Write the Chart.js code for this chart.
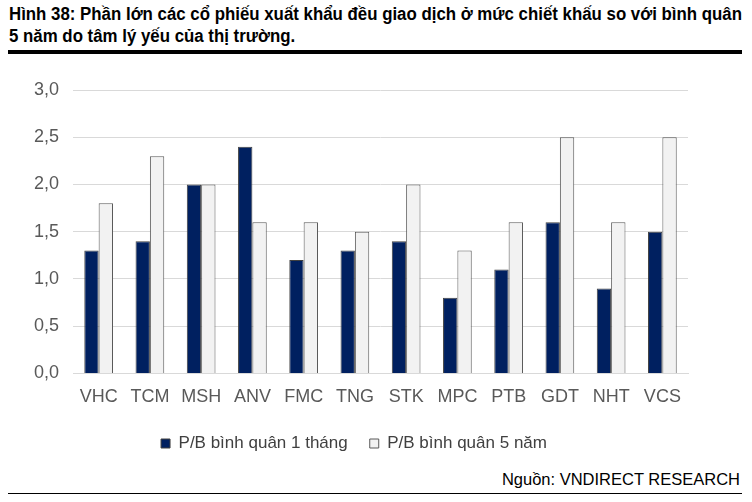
<!DOCTYPE html>
<html><head><meta charset="utf-8">
<script src="https://cdn.jsdelivr.net/npm/chart.js"></script>
<style>
html,body{margin:0;padding:0;background:#fff;}
body{width:752px;height:502px;position:relative;overflow:hidden;font-family:"Liberation Sans",Arial,sans-serif;}
#title{position:absolute;left:9px;top:3px;font-weight:bold;font-size:18px;line-height:22px;color:#000;white-space:nowrap;transform-origin:0 0;}
#rule{position:absolute;left:8px;top:50px;width:734px;height:4px;background:#000;}
#chartbox{position:absolute;left:0;top:56px;width:752px;height:410px;}
#source{position:absolute;right:12px;top:470px;font-size:16.5px;color:#000;}
#rule2{position:absolute;left:8px;top:493px;width:734px;height:1px;background:#000;}
</style></head><body>
<div id="title"><span id="t1">Hình 38: Phần lớn các cổ phiếu xuất khẩu đều giao dịch ở mức chiết khấu so với bình quân</span><br><span>5 năm do tâm lý yếu của thị trường.</span></div>
<div id="rule"></div>
<div id="chartbox"><canvas id="c"></canvas></div>
<div id="source">Nguồn: VNDIRECT RESEARCH</div>
<div id="rule2"></div>
<script>
const categories = ["VHC","TCM","MSH","ANV","FMC","TNG","STK","MPC","PTB","GDT","NHT","VCS"];
const pb1Month = [1.3,1.4,2.0,2.4,1.2,1.3,1.4,0.8,1.1,1.6,0.9,1.5];
const pb5Year = [1.8,2.3,2.0,1.6,1.6,1.5,2.0,1.3,1.6,2.5,1.6,2.5];
const seriesNames = ["P/B bình quân 1 tháng","P/B bình quân 5 năm"];
const yTicks = [0,0.5,1.0,1.5,2.0,2.5,3.0];

(function(){
  const t1 = document.getElementById('t1');
  const w = t1.getBoundingClientRect().width;
  document.getElementById('title').style.transform = 'scaleX(' + (733 / w) + ')';
})();

const FONT = '"Liberation Sans", Arial, sans-serif';
new Chart(document.getElementById('c'), {
  type: 'bar',
  data: {
    labels: categories,
    datasets: [
      {label: seriesNames[0], data: pb1Month, backgroundColor:'#002060', borderColor:'#404040', borderWidth:1, categoryPercentage:0.56, barPercentage:1.0},
      {label: seriesNames[1], data: pb5Year, backgroundColor:'#f2f2f2', borderColor:'#595959', borderWidth:1, categoryPercentage:0.56, barPercentage:1.0}
    ]
  },
  options: {
    responsive:true, maintainAspectRatio:false, animation:false,
    layout:{padding:{left:20,right:64,top:34,bottom:4}},
    plugins:{
      legend:{position:'bottom', labels:{font:{family:FONT, size:17}, color:'#404040', boxWidth:9, boxHeight:9, padding:22}},
      tooltip:{enabled:false}
    },
    scales:{
      x:{grid:{display:false}, border:{color:'#d9d9d9'}, ticks:{font:{family:FONT, size:18}, color:'#595959', padding:5}},
      y:{min:0,max:3, afterBuildTicks:(ax)=>{ax.ticks=yTicks.map(v=>({value:v}));},
         grid:{color:'#d9d9d9', lineWidth:1, drawTicks:false}, border:{display:false},
         ticks:{font:{family:FONT, size:18}, color:'#595959', padding:14, callback:(v)=>v.toFixed(1).replace('.',',')}}
    }
  }
});
</script>
</body></html>
